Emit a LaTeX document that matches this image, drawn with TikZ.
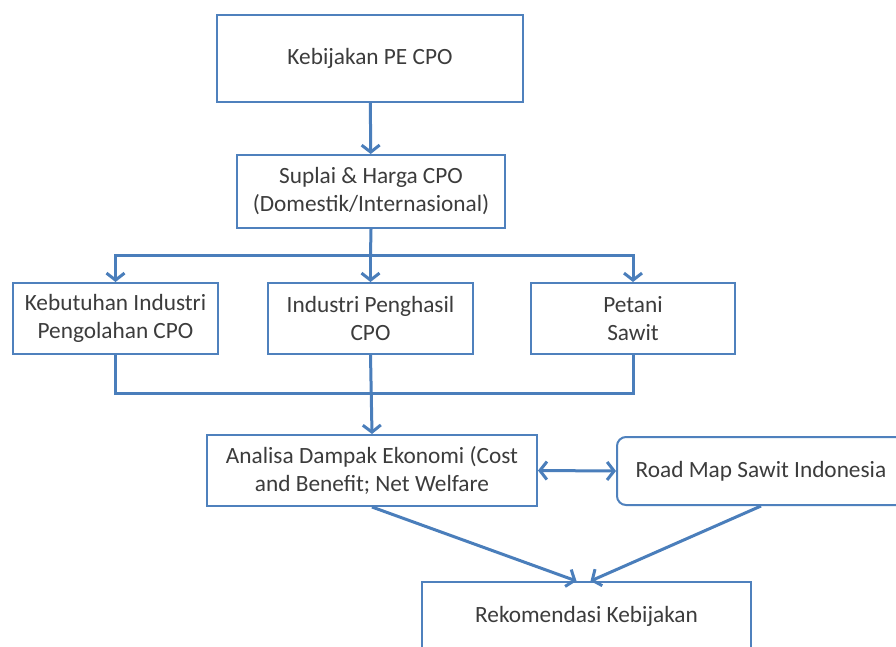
\documentclass[tikz,border=0pt]{standalone}
\usepackage{fontspec}
\setmainfont{Carlito}
\usetikzlibrary{arrows.meta}
\definecolor{boxblue}{RGB}{79,129,189}
\definecolor{arrblue}{RGB}{74,126,187}
\definecolor{txtgray}{RGB}{60,60,60}
\begin{document}
\begin{tikzpicture}[x=1pt,y=-1pt,
	box/.style={draw=boxblue,line width=2pt,fill=white,text=txtgray,align=center,
		inner sep=0pt,font=\fontsize{23.3}{28}\selectfont},
	link/.style={draw=arrblue,line width=3pt},
	tip/.style={-{Straight Barb[length=7pt,width=18pt]}}]
\useasboundingbox [fill=white] (0,0) rectangle (896,646);
\node (kebijakan) [box,minimum width=306pt,minimum height=87pt] at (370,58.5) {Kebijakan PE CPO};
\node (suplai) [box,minimum width=268pt,minimum height=73pt] at (371,191.5) {Suplai \& Harga CPO\\(Domestik/Internasional)};
\node (kebutuhan) [box,minimum width=205pt,minimum height=71pt] at (115.5,318.5) {Kebutuhan Industri\\Pengolahan CPO};
\node (penghasil) [box,minimum width=205pt,minimum height=71pt] at (370.5,318.5) {Industri Penghasil\\CPO};
\node (petani) [box,minimum width=204pt,minimum height=71pt] at (633,318.5) {Petani\\Sawit};
\node (analisa) [box,minimum width=330pt,minimum height=71pt] at (372,470.5) {Analisa Dampak Ekonomi (Cost\\and Benefit; Net Welfare};
\node (roadmap) [box,rounded corners=9pt,minimum width=288pt,minimum height=68pt] at (761,471) {Road Map Sawit Indonesia};
\node (rekomendasi) [box,minimum width=329pt,minimum height=68pt] at (586.5,616) {Rekomendasi Kebijakan};
\coordinate (cabang) at (370.5,255);
\coordinate (gabung) at (370.5,393);
\draw [link,tip] (kebijakan) -- (suplai);
\draw [link] (suplai.south) -- (cabang);
\draw [link,tip] (cabang) -| (kebutuhan.north);
\draw [link,tip] (cabang) -- (penghasil.north);
\draw [link,tip] (cabang) -| (petani.north);
\draw [link] (kebutuhan.south) |- (gabung);
\draw [link] (petani.south) |- (gabung);
\draw [link,tip] (penghasil.south) -- (analisa.north);
\draw [link,{Straight Barb[length=7pt,width=18pt]}-{Straight Barb[length=7pt,width=18pt]}] (analisa.east) -- (roadmap.west);
\draw [link,tip] (analisa.south) -- ([xshift=-10pt]rekomendasi.north);
\draw [link,tip] (roadmap.south) -- ([xshift=4pt]rekomendasi.north);
\end{tikzpicture}
\end{document}
